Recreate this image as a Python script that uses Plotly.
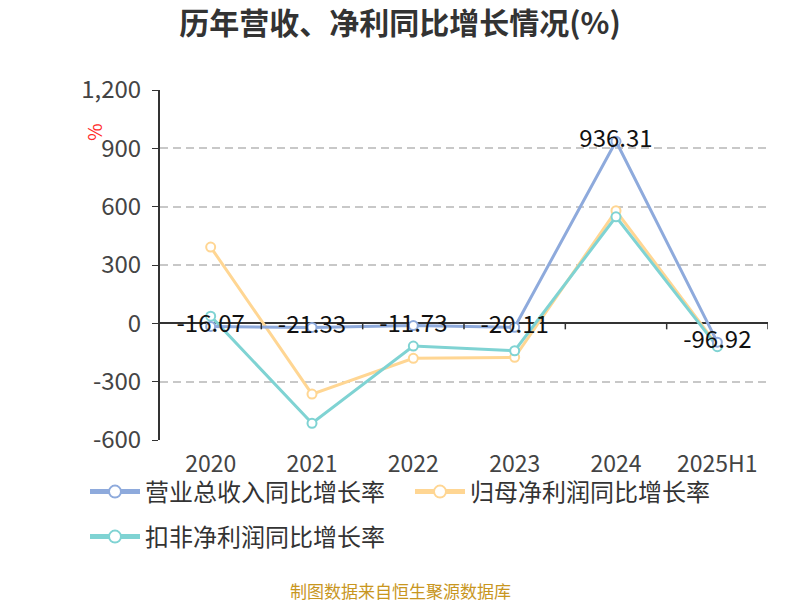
import plotly.graph_objects as go

# categories and series (%)
years = ["2020", "2021", "2022", "2023", "2024", "2025H1"]
revenue_growth = [-16.07, -21.33, -11.73, -20.11, 936.31, -96.92]
net_profit_growth = [392, -364, -180, -175, 579, -115]
deducted_profit_growth = [37, -514, -117, -141, 548, -120]
y_ticks = [-600, -300, 0, 300, 600, 900, 1200]

font_family = "Noto Sans CJK SC, Noto Sans, sans-serif"
blue = "#8eaadc"
yellow = "#ffd693"
teal = "#7fd3d3"

# the page body adds an 8px offset, so the layout is shifted back by that much
left, top, plot_w, plot_h = 152, 82, 608, 350


def line_trace(name, values, color, rank, legend="legend", labels=False):
    """Build one line series with hollow circle markers."""
    trace = go.Scatter(
        x=years,
        y=values,
        name=name,
        mode="lines+markers+text" if labels else "lines+markers",
        line=dict(color=color, width=3),
        marker=dict(symbol="circle", size=9, color="white",
                    line=dict(color=color, width=2)),
        legendrank=rank,
        legend=legend,
    )
    if labels:
        trace.text = [f"{v:.2f}" for v in values]
        trace.textposition = "middle center"
        trace.textfont = dict(color="#111111", size=24, family=font_family)
    return trace


fig = go.Figure()
fig.add_trace(line_trace("归母净利润同比增长率", net_profit_growth, yellow, 2))
fig.add_trace(line_trace("扣非净利润同比增长率", deducted_profit_growth, teal, 3,
                         legend="legend2"))
fig.add_trace(line_trace("营业总收入同比增长率", revenue_growth, blue, 1, labels=True))

# small tick marks below the zero line at category boundaries
for i in range(len(years)):
    fig.add_shape(
        type="line", xref="x", yref="y",
        x0=i + 0.5, x1=i + 0.5, y0=0, y1=-6,
        ysizemode="pixel", yanchor=0,
        line=dict(color="#333333", width=1.5),
    )

legend_style = dict(
    orientation="h",
    x=(77 - left) / plot_w, xanchor="left",
    yanchor="middle",
    entrywidth=260,
    itemwidth=50,
    itemsizing="constant",
    bgcolor="rgba(0,0,0,0)",
    font=dict(size=24, color="#333333", family=font_family),
)

fig.update_layout(
    width=800,
    height=600,
    margin=dict(l=left, r=800 - left - plot_w, t=top, b=600 - top - plot_h),
    plot_bgcolor="white",
    paper_bgcolor="white",
    font=dict(family=font_family, color="#333333"),
    title=dict(
        text="<b>历年营收、净利同比增长情况(%)</b>",
        x=(400 - 8) / 800, xref="container", xanchor="center",
        y=1 - 15 / 600, yref="container", yanchor="middle",
        font=dict(size=30, color="#333333", family=font_family),
    ),
    showlegend=True,
    legend=dict(legend_style, y=-(484 - top - plot_h) / plot_h),
    legend2=dict(legend_style, y=-(529 - top - plot_h) / plot_h),
    annotations=[
        dict(
            text="%", xref="paper", yref="paper",
            x=(85 - left) / plot_w, y=1 - (124 - top) / plot_h,
            xanchor="center", yanchor="middle",
            showarrow=False, textangle=-90,
            font=dict(size=19, color="#ff2a2a", family=font_family),
        ),
        dict(
            text="制图数据来自恒生聚源数据库", xref="paper", yref="paper",
            x=(392 - left) / plot_w, y=-(582 - top - plot_h) / plot_h,
            xanchor="center", yanchor="middle", showarrow=False,
            font=dict(size=17, color="#c8961e", family=font_family),
        ),
    ],
)

fig.update_xaxes(
    type="category",
    range=[-0.5, len(years) - 0.5],
    showline=False,
    showgrid=False,
    ticks="",
    ticklabelstandoff=8,
    tickfont=dict(size=23, color="#444444", family=font_family),
)

fig.update_yaxes(
    range=[-600, 1200],
    tickvals=y_ticks,
    ticktext=[f"{v:,}" for v in y_ticks],
    showline=True,
    linecolor="#333333",
    linewidth=2,
    ticks="outside",
    ticklen=6,
    tickcolor="#333333",
    ticklabelstandoff=6,
    showgrid=True,
    gridcolor="#c8c8c8",
    griddash="8px,5px",
    gridwidth=1.5,
    zeroline=True,
    zerolinecolor="#333333",
    zerolinewidth=2,
    tickfont=dict(size=24, color="#444444", family=font_family),
)

fig.write_html("out.html")
